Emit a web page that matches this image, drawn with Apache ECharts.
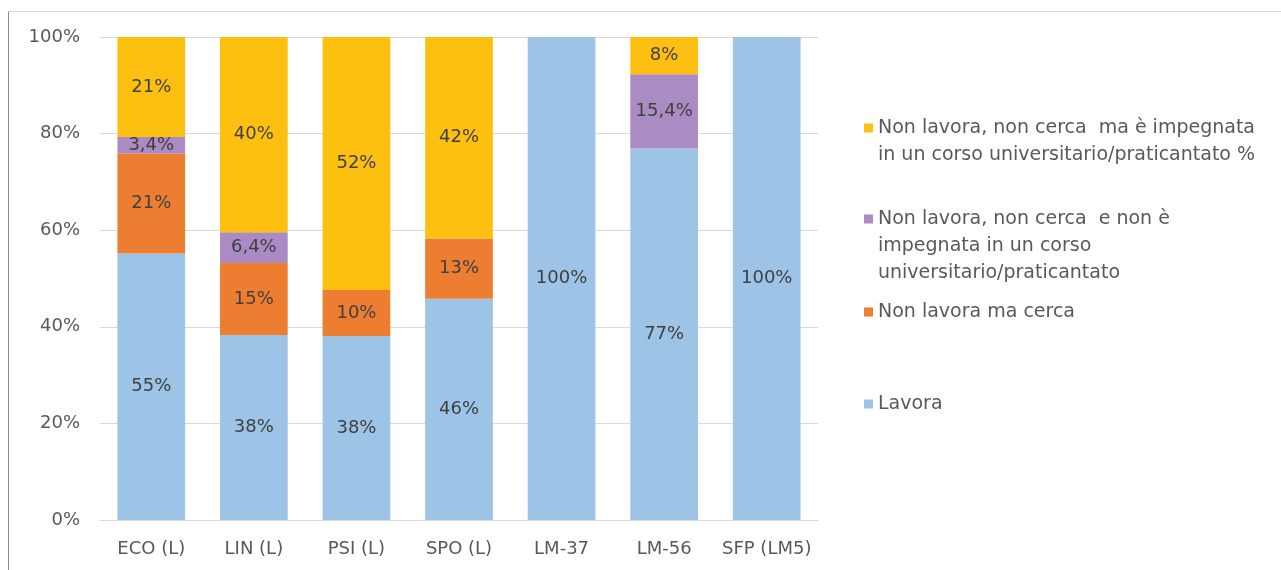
<!DOCTYPE html>
<html>
<head>
<meta charset="utf-8">
<script src="https://cdn.jsdelivr.net/npm/echarts@6/dist/echarts.min.js"></script>
<style>
  html, body { margin: 0; padding: 0; background: #fff; }
  #frame {
    position: absolute; left: 8px; top: 11px; width: 1273px; height: 559px;
    border-top: 1px solid #d9d9d9; border-left: 1px solid #8c8c8c;
  }
  #chart { position: absolute; left: 0; top: 0; width: 1281px; height: 570px; }
</style>
</head>
<body>
<div id="frame"></div>
<div id="chart"></div>
<script>
// categorie (corsi di laurea)
var categories = ["ECO (L)", "LIN (L)", "PSI (L)", "SPO (L)", "LM-37", "LM-56", "SFP (LM5)"];

// valori in % per ogni condizione
var lavora = [55.2, 38.3, 38.1, 45.8, 100, 76.9, 100];
var nonLavoraCerca = [20.7, 14.9, 9.5, 12.5, 0, 0, 0];
var nonImpegnata = [3.4, 6.4, 0, 0, 0, 15.4, 0];
var impegnata = [20.7, 40.4, 52.4, 41.7, 0, 7.7, 0];

var yTicks = [0, 20, 40, 60, 80, 100];

var seriesNames = [
  "Lavora",
  "Non lavora ma cerca",
  "Non lavora, non cerca  e non è impegnata in un corso universitario/praticantato",
  "Non lavora, non cerca  ma è impegnata in un corso universitario/praticantato %"
];
// testo della legenda, a capo come nell'originale
var legendLabels = [
  "Lavora",
  "Non lavora ma cerca",
  "Non lavora, non cerca  e non è\nimpegnata in un corso\nuniversitario/praticantato",
  "Non lavora, non cerca  ma è impegnata\nin un corso universitario/praticantato %"
];

var colors = ["#9dc3e6", "#ed7d31", "#ab8bc3", "#fdc011"];
var FONT = "DejaVu Sans";
var TEXT = "#595959";

var chart = echarts.init(document.getElementById("chart"));

function makeSeries(name, data, color, decimals) {
  return {
    name: name,
    type: "bar",
    stack: "tot",
    barCategoryGap: "34%",
    data: data,
    itemStyle: { color: color },
    label: {
      show: true,
      position: "inside",
      color: "#404040",
      fontFamily: FONT,
      fontSize: 18,
      formatter: function (p) {
        if (!p.value) return "";
        return p.value.toFixed(decimals).replace(".", ",") + "%";
      }
    },
    emphasis: { disabled: true },
    animation: false
  };
}

// una legenda per voce; righe vuote davanti così l'icona sta sulla prima riga
var LH = 27;
var legendCenters = [404, 312, 219, 128];
var legends = [];
for (var i = 3; i >= 0; i--) {
  var lines = legendLabels[i].split("\n").length;
  var txt = new Array(lines).join("\n") + legendLabels[i];
  var h = (2 * lines - 1) * LH;
  legends.push({
    data: [seriesNames[i]],
    orient: "vertical",
    left: 864,
    top: legendCenters[i] - h / 2,
    padding: 0,
    itemWidth: 9,
    itemHeight: 9,
    selectedMode: false,
    icon: "rect",
    formatter: (function (t) { return function () { return t; }; })(txt),
    textStyle: {
      fontFamily: FONT,
      fontSize: 19,
      color: TEXT,
      lineHeight: LH
    }
  });
}

chart.setOption({
  backgroundColor: "transparent",
  legend: legends,
  grid: { left: 100, right: 463, top: 37, bottom: 50 },
  xAxis: {
    type: "category",
    data: categories,
    axisLine: { lineStyle: { color: "#d9d9d9" } },
    axisTick: { show: false },
    axisLabel: { color: TEXT, fontFamily: FONT, fontSize: 18, margin: 20, interval: 0 }
  },
  yAxis: {
    type: "value",
    min: yTicks[0],
    max: yTicks[yTicks.length - 1],
    interval: yTicks[1] - yTicks[0],
    axisLine: { show: false },
    axisTick: { show: false },
    splitLine: { lineStyle: { color: "#d9d9d9" } },
    axisLabel: {
      color: TEXT, fontFamily: FONT, fontSize: 18, margin: 20,
      formatter: "{value}%"
    }
  },
  series: [
    makeSeries(seriesNames[0], lavora, colors[0], 0),
    makeSeries(seriesNames[1], nonLavoraCerca, colors[1], 0),
    makeSeries(seriesNames[2], nonImpegnata, colors[2], 1),
    makeSeries(seriesNames[3], impegnata, colors[3], 0)
  ]
});
</script>
</body>
</html>
